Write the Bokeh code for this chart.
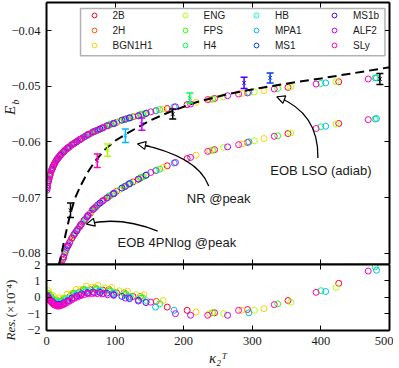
import numpy as np
from bokeh.plotting import figure
from bokeh.layouts import column, row
from bokeh.models import (Range1d, FixedTicker, LinearAxis, Legend, LegendItem, BoxAnnotation,
                          Label, Arrow, NormalHead, ColumnDataSource, CustomLabelingPolicy)
from bokeh.embed import file_html
from bokeh.resources import INLINE

NaN = float("nan")

EOS_NAMES = ["2B", "2H", "BGN1H1", "ENG", "FPS", "H4", "HB", "MPA1", "MS1", "MS1b", "ALF2", "SLy"]
EOS_COLORS = ["#ff0029", "#ff5400", "#ffd100", "#afff00", "#31ff00", "#00ff4b",
              "#00ffc7", "#00b9ff", "#003bff", "#4300ff", "#c100ff", "#ff00bf"]

# ---- EOB data per EOS: kappa_2^T, E_b at LSO (adiab), E_b at peak (4PNlog), residual (x1e-4)
K_2B = [4, 12, 22, 34, 48, 64, 82, 102, 126, 176, 205, 245, 293, 352, 426]
LSO_2B = [-0.0665, -0.0638, -0.0621, -0.0608, -0.0596, -0.0585, -0.0575, -0.0565, -0.0555, -0.0540, -0.0533, -0.0522, -0.0512, -0.0502, -0.0492]
PEAK_2B = [NaN, NaN, -0.0819, -0.0780, -0.0753, -0.0728, -0.0706, -0.0689, -0.0672, -0.0643, -0.0630, -0.0614, -0.0601, -0.0585, -0.0567]
RES_2B = [0.10, -0.23, -0.24, 0.03, 0.31, 0.46, 0.44, 0.28, 0.05, -0.60, -0.80, -0.95, -0.75, -0.20, 0.85]

K_2H = [6, 15, 26, 39, 54, 71, 91, 113, 137, 160]
LSO_2H = [-0.0656, -0.0632, -0.0616, -0.0604, -0.0592, -0.0581, -0.0570, -0.0560, -0.0551, -0.0544]
PEAK_2H = [NaN, NaN, -0.0803, -0.0769, -0.0743, -0.0718, -0.0698, -0.0681, -0.0665, -0.0651]
RES_2H = [0.10, -0.18, -0.07, 0.25, 0.49, 0.57, 0.48, 0.27, 0.05, -0.25]

K_BGN1H1 = [3, 10, 19, 30, 43, 58, 75, 95, 118, 142, 170, 218, 238, 285, 317]
LSO_BGN1H1 = [-0.0670, -0.0643, -0.0626, -0.0612, -0.0600, -0.0589, -0.0579, -0.0568, -0.0558, -0.0550, -0.0541, -0.0529, -0.0524, -0.0513, -0.0508]
PEAK_BGN1H1 = [NaN, NaN, NaN, -0.0790, -0.0761, -0.0737, -0.0713, -0.0695, -0.0677, -0.0662, -0.0646, -0.0624, -0.0616, -0.0604, -0.0594]
RES_BGN1H1 = [0.40, 0.08, -0.03, 0.18, 0.48, 0.68, 0.72, 0.60, 0.37, 0.15, -0.20, -0.90, -1.00, -0.80, -0.70]

K_ENG = [5, 13, 24, 36, 50, 66, 85, 106, 130, 258, 303, 356, 422]
LSO_ENG = [-0.0660, -0.0636, -0.0619, -0.0606, -0.0595, -0.0583, -0.0573, -0.0563, -0.0554, -0.0519, -0.0510, -0.0501, -0.0492]
PEAK_ENG = [NaN, NaN, -0.0811, -0.0775, -0.0749, -0.0725, -0.0703, -0.0686, -0.0670, -0.0610, -0.0598, -0.0584, -0.0568]
RES_ENG = [0.20, -0.10, -0.06, 0.22, 0.50, 0.62, 0.57, 0.39, 0.16, -1.00, -0.80, -0.30, 0.60]

K_FPS = [2, 9, 18, 28, 41, 56, 73, 93, 116, 140, 242, 337]
LSO_FPS = [-0.0676, -0.0646, -0.0627, -0.0614, -0.0602, -0.0590, -0.0580, -0.0569, -0.0559, -0.0550, -0.0523, -0.0504]
PEAK_FPS = [NaN, NaN, NaN, -0.0796, -0.0765, -0.0740, -0.0716, -0.0697, -0.0679, -0.0663, -0.0615, -0.0589]
RES_FPS = [0.25, -0.09, -0.24, -0.07, 0.24, 0.47, 0.52, 0.41, 0.19, -0.03, -0.95, -0.40]

K_H4 = [7, 16, 27, 40, 55, 72, 92, 114, 138, 165, 400, 479]
LSO_H4 = [-0.0652, -0.0630, -0.0615, -0.0603, -0.0591, -0.0580, -0.0569, -0.0560, -0.0551, -0.0542, -0.0495, -0.0485]
PEAK_H4 = [NaN, NaN, -0.0799, -0.0767, -0.0741, -0.0717, -0.0697, -0.0680, -0.0664, -0.0649, -0.0573, -0.0559]
RES_H4 = [-0.05, -0.29, -0.15, 0.17, 0.41, 0.47, 0.37, 0.16, -0.06, -0.40, 0.40, 1.85]

K_HB = [4, 11, 21, 32, 46, 61, 79, 99, 122, 146]
LSO_HB = [-0.0665, -0.0641, -0.0623, -0.0610, -0.0598, -0.0587, -0.0576, -0.0566, -0.0557, -0.0548]
PEAK_HB = [NaN, NaN, -0.0824, -0.0785, -0.0756, -0.0732, -0.0709, -0.0692, -0.0675, -0.0659]
RES_HB = [0.05, -0.25, -0.31, -0.07, 0.23, 0.40, 0.40, 0.26, 0.03, -0.21]

K_MPA1 = [8, 17, 29, 42, 57, 76, 97, 120, 159, 186, 295, 407, 481]
LSO_MPA1 = [-0.0649, -0.0629, -0.0613, -0.0601, -0.0590, -0.0578, -0.0567, -0.0557, -0.0544, -0.0537, -0.0511, -0.0494, -0.0485]
PEAK_MPA1 = [NaN, NaN, -0.0793, -0.0763, -0.0738, -0.0712, -0.0693, -0.0676, -0.0652, -0.0638, -0.0600, -0.0572, -0.0558]
RES_MPA1 = [-0.20, -0.39, -0.20, 0.11, 0.33, 0.36, 0.23, 0.00, -0.60, -0.80, -0.95, 0.35, 1.65]

K_MS1 = [1, 8, 16, 25, 37, 51, 68, 88, 110, 134]
LSO_MS1 = [-0.0683, -0.0649, -0.0630, -0.0618, -0.0605, -0.0594, -0.0582, -0.0571, -0.0561, -0.0553]
PEAK_MS1 = [NaN, NaN, NaN, -0.0807, -0.0773, -0.0748, -0.0721, -0.0701, -0.0683, -0.0667]
RES_MS1 = [0.10, -0.25, -0.44, -0.34, -0.05, 0.21, 0.32, 0.25, 0.05, -0.18]

K_MS1b = [3, 11, 20, 31, 44, 60, 78, 98, 121, 145]
LSO_MS1b = [-0.0670, -0.0641, -0.0624, -0.0611, -0.0600, -0.0587, -0.0577, -0.0567, -0.0557, -0.0549]
PEAK_MS1b = [NaN, NaN, -0.0828, -0.0787, -0.0760, -0.0733, -0.0710, -0.0693, -0.0675, -0.0660]
RES_MS1b = [-0.02, -0.37, -0.44, -0.22, 0.08, 0.28, 0.29, 0.15, -0.08, -0.32]

K_ALF2 = [1, 5, 9, 14, 19, 25, 32, 40, 49, 59, 70, 83, 98, 115, 134, 188, 210, 264]
LSO_ALF2 = [-0.0683, -0.0660, -0.0646, -0.0634, -0.0626, -0.0618, -0.0610, -0.0603, -0.0596, -0.0588, -0.0581, -0.0574, -0.0567, -0.0559, -0.0553, -0.0537, -0.0532, -0.0517]
PEAK_ALF2 = [NaN, NaN, NaN, NaN, NaN, -0.0807, -0.0785, -0.0767, -0.0751, -0.0735, -0.0719, -0.0705, -0.0693, -0.0680, -0.0667, -0.0637, -0.0628, -0.0609]
RES_ALF2 = [0.05, -0.15, -0.34, -0.47, -0.48, -0.39, -0.22, -0.03, 0.13, 0.24, 0.27, 0.24, 0.12, -0.05, -0.23, -1.00, -1.10, -1.10]

K_SLy = [0.5, 1.5, 2.5, 3.5, 4.5, 5.5, 7, 8.5, 10, 11.5, 13, 15, 17, 19, 21.5, 24, 27, 30, 33.5, 37, 41, 45.5, 50,
         55, 61, 67, 74, 81, 89, 152, 235, 280, 332, 393, 469]
LSO_SLy = [-0.0687, -0.0680, -0.0673, -0.0667, -0.0662, -0.0658, -0.0652, -0.0648, -0.0643, -0.0640, -0.0636, -0.0632,
           -0.0629, -0.0626, -0.0622, -0.0619, -0.0615, -0.0612, -0.0609, -0.0605, -0.0602, -0.0598, -0.0595,
           -0.0591, -0.0587, -0.0583, -0.0579, -0.0575, -0.0571, -0.0546, -0.0524, -0.0514, -0.0505, -0.0496, -0.0487]
PEAK_SLy = [NaN, NaN, NaN, NaN, NaN, NaN, NaN, NaN, NaN, NaN, NaN, NaN, NaN, NaN,
            -0.0822, -0.0811, -0.0799, -0.0790, -0.0781, -0.0773, -0.0765, -0.0757, -0.0749,
            -0.0741, -0.0732, -0.0722, -0.0714, -0.0707, -0.0700, -0.0655, -0.0617, -0.0605, -0.0590, -0.0576, -0.0560]
RES_SLy = [0.02, -0.02, -0.08, -0.12, -0.18, -0.22, -0.30, -0.37, -0.42, -0.46, -0.50, -0.53, -0.54, -0.53,
           -0.50, -0.46, -0.40, -0.32, -0.24, -0.15, -0.06, 0.02, 0.10,
           0.16, 0.20, 0.22, 0.22, 0.20, 0.15, -0.30, -1.10, -0.80, -0.45, 0.30, 1.60]

KAPPA = [K_2B, K_2H, K_BGN1H1, K_ENG, K_FPS, K_H4, K_HB, K_MPA1, K_MS1, K_MS1b, K_ALF2, K_SLy]
LSO = [LSO_2B, LSO_2H, LSO_BGN1H1, LSO_ENG, LSO_FPS, LSO_H4, LSO_HB, LSO_MPA1, LSO_MS1, LSO_MS1b, LSO_ALF2, LSO_SLy]
PEAK = [PEAK_2B, PEAK_2H, PEAK_BGN1H1, PEAK_ENG, PEAK_FPS, PEAK_H4, PEAK_HB, PEAK_MPA1, PEAK_MS1, PEAK_MS1b, PEAK_ALF2, PEAK_SLy]
RES = [RES_2B, RES_2H, RES_BGN1H1, RES_ENG, RES_FPS, RES_H4, RES_HB, RES_MPA1, RES_MS1, RES_MS1b, RES_ALF2, RES_SLy]

# ---- NR data at peak
NR_K = [35, 74, 89, 115, 139, 184, 209, 288, 326, 486]
NR_EB = [-0.0723, -0.0634, -0.0615, -0.0589, -0.0568, -0.0550, -0.0521, -0.0494, -0.0485, -0.0487]
NR_ERR = [0.0013, 0.0012, 0.0011, 0.0012, 0.0011, 0.0009, 0.0009, 0.0010, 0.0009, 0.0010]
NR_EOS = [None, "SLy", "ENG", "MPA1", "ALF2", None, "H4", "MS1b", "MS1", None]

# ---- fit (dashed)
FIT_K = [18, 22, 28, 35, 42, 50, 60, 70, 85, 100, 120, 150, 180, 215, 264, 312, 356, 400, 450, 500]
FIT_EB = [-0.0822, -0.0800, -0.0765, -0.0728, -0.0700, -0.0678, -0.0655, -0.0636, -0.0614, -0.0598,
          -0.0583, -0.0562, -0.0546, -0.0530, -0.0514, -0.0503, -0.0494, -0.0486, -0.0476, -0.0466]

X_TICKS = [0, 100, 200, 300, 400, 500]
X_LABELS = {0: "0", 100: "100", 200: "200", 300: "300", 400: "400", 500: "500"}
EB_TICKS = [-0.08, -0.07, -0.06, -0.05, -0.04]
EB_LABELS = {-0.08: "\u22120.08", -0.07: "\u22120.07", -0.06: "\u22120.06", -0.05: "\u22120.05", -0.04: "\u22120.04"}
RES_TICKS = [-2, -1, 0, 1, 2]
RES_LABELS = {-2: "\u22122", -1: "\u22121", 0: "0", 1: "1", 2: "2"}

SERIF = "Liberation Serif"
SANS = "Liberation Sans"
TXT = "#1a1a1a"

x_range = Range1d(0, 500)

HIDE_LABELS = CustomLabelingPolicy(code="""
if (indices != null && typeof indices.unset === 'function' && typeof indices.size === 'number') {
  for (let i = 0; i < indices.size; i++) indices.unset(i);
}
return indices;
""")


def add_axis(p, side, ticks, labels):
    ax = LinearAxis(ticker=FixedTicker(ticks=ticks, minor_ticks=[]))
    ax.axis_line_color = "black"
    ax.axis_line_width = 2
    ax.major_tick_in = 5
    ax.major_tick_out = 0
    ax.major_tick_line_color = "black"
    ax.major_tick_line_width = 1
    ax.minor_tick_line_color = None
    if labels is None:
        ax.major_label_text_font_size = "0px"
        ax.major_label_standoff = 0
        ax.major_label_policy = HIDE_LABELS
    else:
        ax.major_label_overrides = labels
        ax.major_label_text_font = SERIF
        ax.major_label_text_font_size = "12.5px"
        ax.major_label_text_color = TXT
        ax.major_label_standoff = 6
    p.add_layout(ax, side)
    return ax


def base_figure(height, y_range, top, bottom):
    p = figure(width=393, height=height, x_range=x_range, y_range=y_range,
               output_backend="svg", toolbar_location=None,
               x_axis_location=None, y_axis_location=None,
               min_border_left=46, min_border_right=4,
               min_border_top=top, min_border_bottom=bottom)
    p.xgrid.visible = False
    p.ygrid.visible = False
    p.outline_line_color = None
    p.background_fill_color = "white"
    p.border_fill_alpha = 0
    return p


# ================= top panel =================
p1 = base_figure(264, Range1d(-0.08204, -0.03495), 2, 0)
add_axis(p1, "left", EB_TICKS, EB_LABELS)
add_axis(p1, "right", EB_TICKS, None)
add_axis(p1, "above", X_TICKS, None)
add_axis(p1, "below", X_TICKS, None)

lso_renderers = []
for name, col, k, lso, pk in zip(EOS_NAMES, EOS_COLORS, KAPPA, LSO, PEAK):
    src = ColumnDataSource(dict(k=np.array(k, dtype=float), lso=np.array(lso, dtype=float),
                                pk=np.array(pk, dtype=float)))
    r = p1.scatter("k", "lso", source=src, marker="circle", size=6, fill_color=None,
                   line_color=col, line_width=1)
    p1.scatter("k", "pk", source=src, marker="circle", size=6, fill_color=None,
               line_color=col, line_width=1)
    lso_renderers.append(r)

p1.line(FIT_K, FIT_EB, line_color="black", line_width=2, line_dash="9 5")

color_of = dict(zip(EOS_NAMES, EOS_COLORS))
nr_colors = [color_of[e] if e else "black" for e in NR_EOS]
nr_lo = [e - s for e, s in zip(NR_EB, NR_ERR)]
nr_hi = [e + s for e, s in zip(NR_EB, NR_ERR)]
nr_src = ColumnDataSource(dict(k=NR_K, e=NR_EB, lo=nr_lo, hi=nr_hi, c=nr_colors))
p1.segment(x0="k", y0="lo", x1="k", y1="hi", source=nr_src, line_color="c", line_width=1.5)
p1.scatter("k", "lo", source=nr_src, marker="dash", size=7, line_color="c", line_width=1.5)
p1.scatter("k", "hi", source=nr_src, marker="dash", size=7, line_color="c", line_width=1.5)
p1.scatter("k", "e", source=nr_src, marker="x", size=5, line_color="c", line_width=1)

# annotations with curved arrows
ARROWS = [  # (x0, y0, cx, cy, x1, y1, head_start_x, head_start_y)
    (395.6, -0.06288, 397.1, -0.05477, 335.8, -0.05189, 348.0, -0.05247),
    (236.5, -0.06793, 220.4, -0.06252, 132.8, -0.06036, 150.4, -0.06079),
    (162.0, -0.07604, 108.0, -0.07333, 58.4, -0.07477, 68.3, -0.07449),
]
for x0, y0, cx, cy, x1, y1, hx, hy in ARROWS:
    p1.quadratic(x0=x0, y0=y0, cx=cx, cy=cy, x1=x1, y1=y1, line_color="black", line_width=1.3)
    p1.add_layout(Arrow(x_start=hx, y_start=hy, x_end=x1, y_end=y1, line_color="black", line_width=1.3,
                        end=NormalHead(size=8, fill_color="white", line_color="black", line_width=1.2)))

for txt, x, y in [("EOB LSO (adiab)", 400, -0.0651), ("NR @peak", 251, -0.0701),
                  ("EOB 4PNlog @peak", 190, -0.0780)]:
    p1.add_layout(Label(x=x, y=y, text=txt, text_align="center", text_baseline="middle",
                        text_font=SANS, text_font_size="13px", text_color=TXT))

# legend: white framed box holding four columns of entries
p1.add_layout(BoxAnnotation(left=49.6, right=493.4, top=-0.03604, bottom=-0.04450,
                            fill_color="white", fill_alpha=1, line_color="black", line_width=1.5))
LEGEND_COLS = [(0, 3, 35.5), (3, 6, 126.5), (6, 9, 198), (9, 12, 276)]
for a, b, vx in LEGEND_COLS:
    items = [LegendItem(label=EOS_NAMES[i], renderers=[lso_renderers[i]]) for i in range(a, b)]
    p1.add_layout(Legend(items=items, location=(vx, 213), orientation="vertical",
                         margin=0, padding=0, spacing=3, glyph_width=24, glyph_height=12,
                         label_height=12, label_width=10, label_standoff=7,
                         label_text_font=SANS, label_text_font_size="10px", label_text_color=TXT,
                         border_line_color=None, background_fill_alpha=0))

# ================= residual panel =================
# its canvas starts 6px higher (overlapping the top panel's bottom border) so the "2" label fits
p2 = base_figure(110, Range1d(-2.03, 2.0), 6, 38)
p2.styles = {"margin-top": "-6px"}
add_axis(p2, "left", RES_TICKS, RES_LABELS)
add_axis(p2, "right", RES_TICKS, None)
add_axis(p2, "above", X_TICKS, None)
xb = add_axis(p2, "below", X_TICKS, X_LABELS)
xb.axis_label = "\u03ba\u2082\u1d40"
xb.axis_label_text_font = SERIF
xb.axis_label_text_font_style = "italic"
xb.axis_label_text_font_size = "15px"
xb.axis_label_text_color = TXT
xb.axis_label_standoff = 2

for col, k, res in zip(EOS_COLORS, KAPPA, RES):
    p2.scatter(np.array(k, dtype=float), np.array(res, dtype=float), marker="circle", size=6,
               fill_color=None, line_color=col, line_width=1)

plots = column(p1, p2, spacing=0)
plots.styles = {"margin-left": "-46px"}

# ================= y-axis titles (drawn in a transparent strip under the plots' left border) =================
g = figure(width=46, height=368, x_range=Range1d(0, 46), y_range=Range1d(368, 0),
           output_backend="svg", toolbar_location=None, x_axis_location=None, y_axis_location=None,
           min_border=0)
g.xgrid.visible = False
g.ygrid.visible = False
g.outline_line_color = None
g.background_fill_alpha = 0
g.border_fill_alpha = 0
for txt, x, y, size, italic in [("E", 9.5, 110, "15px", True), ("b", 15, 101.5, "10px", True),
                                ("Res.", 10, 329, "13px", True), ("(\u00d710\u207b\u2074)", 10, 298, "13px", False)]:
    g.add_layout(Label(x=x, y=y, text=txt, angle=np.pi / 2, text_align="center", text_baseline="middle",
                       text_font=SERIF, text_font_style="italic" if italic else "normal",
                       text_font_size=size, text_color=TXT))

layout = row(g, plots, spacing=0)
open("out.html", "w").write(file_html(layout, INLINE))
